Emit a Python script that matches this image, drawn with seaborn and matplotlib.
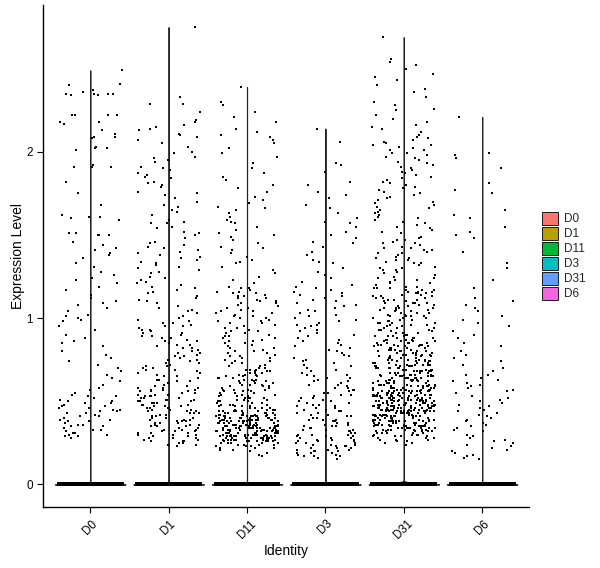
import numpy as np
import pandas as pd
import seaborn as sns
import matplotlib.pyplot as plt
from matplotlib.patches import Patch

# grupos e cores (paleta padrão do ggplot)
groups = ["D0", "D1", "D11", "D3", "D31", "D6"]
colors = ["#F8766D", "#B79F00", "#00BA38", "#00BFC4", "#619CFF", "#F564E3"]

# número de células com expressão zero por grupo (estimado)
zero_counts = [4000, 4000, 4000, 4000, 4000, 4000]

# valores de expressão não nulos (x100)
d0 = [249, 240, 241, 235, 235, 236, 237, 235, 234, 234, 235, 222, 222, 222, 222, 218, 217, 218,
      213, 211, 209, 208, 209, 202, 201, 202, 203, 192, 191, 191, 191, 182, 175, 168, 161, 162,
      161, 160, 159, 150, 150, 150, 151, 151, 146, 144, 142,
      141, 139, 136, 133, 131, 128, 126, 124, 121, 119, 117, 114, 112, 110, 108, 106, 104, 102,
      101, 99, 98, 138, 123, 109, 100,
      95, 93, 90, 88, 85, 83, 80, 78, 76, 74, 72, 70, 68, 66, 64, 62, 60, 58, 57, 86,
      55, 54, 53, 52, 51, 50, 49, 48, 47, 46, 45, 45, 44, 43, 42, 41, 40, 39, 38, 38, 37, 36,
      35, 34, 33, 32, 31, 30, 29, 28, 50, 47, 44, 41, 36, 33, 30, 53, 49, 43, 39, 35, 31, 29, 46]

d1 = [275, 233, 219, 229, 229, 224, 218, 214, 210, 216, 215, 211, 213, 200, 197, 209, 207, 205,
      203, 199, 195, 194, 196, 191, 190, 189, 187, 186, 184, 185, 182, 181, 180, 179, 176, 175,
      174, 172, 170, 168, 167, 165, 164, 162, 159, 157, 158, 157, 155, 154, 152, 151, 148, 150,
      146, 144, 145,
      143, 142, 140, 139, 138, 137, 135, 134, 132, 131, 130, 128, 127, 125, 124, 122, 121, 119,
      118, 116, 115, 113, 112, 110, 109, 107, 106, 104, 103, 101, 100, 141, 136, 129, 123, 117,
      111, 105, 133, 120,
      99, 98, 97, 96, 95, 94, 93, 92, 91, 90, 89, 88, 87, 86, 85, 84, 83, 82, 81, 80, 79, 78,
      77, 76, 75, 74, 73, 72, 71, 70, 69, 68, 67, 66, 65, 64, 63, 62, 61, 60, 97, 93, 88, 84,
      79, 75, 71, 67, 63, 95, 86, 77, 69, 62, 91, 82, 73, 65, 89, 70,
      59, 58, 57, 56, 55, 54, 53, 52, 51, 50, 49, 48, 47, 46, 45, 44, 43, 42, 41, 40, 39, 38,
      37, 36, 35, 34, 33, 32, 31, 30, 29, 28, 27, 26, 25, 24, 23, 58, 56, 54, 52, 50, 48, 46,
      44, 42, 40, 38, 36, 34, 32, 30, 28, 26, 57, 53, 49, 45, 41, 37, 33, 29, 25, 55, 51, 47,
      43, 39, 35, 31, 27, 59, 52, 45, 38, 31, 24, 56, 49, 42, 35, 28, 54, 47, 40, 33, 26, 58,
      50, 44, 37, 30, 53, 46, 39, 32, 51, 43, 36, 57, 48]

d11 = [239, 230, 228, 224, 221, 218, 214, 212, 210, 209, 207, 205, 202, 199, 197, 193, 190, 187,
       185, 183, 180, 178, 176, 173, 171,
       169, 167, 165, 163, 161, 159, 157, 155, 153, 151, 149, 147, 145, 143, 141, 139, 137, 135,
       133, 131, 129, 127, 125, 123, 121, 166, 158, 150, 142, 134,
       119, 118, 117, 116, 115, 114, 113, 112, 111, 110, 109, 108, 107, 106, 105, 104, 103, 102,
       101, 100, 99, 98, 97, 96, 95, 94, 93, 92, 91, 90, 89, 88, 87, 86, 85, 84, 83, 82, 81, 80,
       79, 78, 77, 76, 75, 74, 73, 72, 71, 70, 118, 115, 112, 109, 106, 103, 100, 97, 94, 91,
       88, 85, 82, 79, 76, 73, 70, 116, 110, 104, 98, 92, 86, 80, 74, 113, 101, 89, 77, 71,
       69, 68, 67, 66, 65, 64, 63, 62, 61, 60, 59, 58, 57, 56, 55, 54, 53, 52, 51, 50, 49, 48,
       47, 46, 45, 69, 67, 65, 63, 61, 59, 57, 55, 53, 51, 49, 47, 45, 68, 66, 64, 62, 60, 58,
       56, 54, 52, 50, 48, 46, 69, 66, 63, 60, 57, 54, 51, 48, 45, 67, 64, 61, 58, 55, 52, 49,
       46, 68, 65, 62, 59, 56, 53, 50, 47, 62, 57, 52, 47,
       44, 43, 42, 41, 40, 39, 38, 37, 36, 35, 34, 33, 32, 31, 30, 29, 28, 27, 26, 25, 24, 23,
       22, 21, 20, 19, 18, 17,
       44, 43, 42, 41, 40, 39, 38, 37, 36, 35, 34, 33, 32, 31, 30, 29, 28, 27, 26, 25, 24, 23, 22,
       44, 42, 41, 40, 39, 38, 37, 36, 35, 34, 33, 32, 31, 30, 29, 28, 27, 26, 25, 24,
       43, 42, 41, 40, 39, 38, 37, 36, 35, 34, 33, 32, 31, 30, 29, 28, 27, 26, 25,
       44, 43, 41, 40, 39, 38, 37, 36, 35, 34, 33, 32, 31, 30, 29, 28, 27, 26,
       42, 41, 40, 39, 38, 37, 36, 35, 34, 33, 32, 31, 30, 29, 28, 27,
       43, 41, 40, 39, 38, 37, 36, 35, 34, 33, 32, 31, 30, 29, 28, 27, 26,
       44, 42, 40, 39, 38, 37, 36, 35, 34, 33, 32, 31, 30, 29, 28,
       41, 39, 37, 36, 35, 34, 33, 32, 31, 30, 29, 28,
       40, 38, 36, 35, 34, 33, 32, 31, 30, 29,
       45, 43, 41, 39, 37, 35, 33, 31, 29, 27, 25, 23, 21,
       48, 44, 40, 36, 34, 32, 30, 28, 26, 24, 22,
       52, 46, 42, 38, 35, 31, 27, 24]

d3 = [214, 206, 193, 188, 182, 180, 176, 174, 192, 172,
      168, 166, 163, 160, 158, 155, 152, 150, 148, 146, 143, 140, 138, 135, 133, 130, 128, 126,
      124, 122, 120, 119, 157, 145, 134,
      117, 116, 114, 113, 111, 110, 108, 107, 105, 104, 102, 101, 99, 98, 96, 95, 93, 92, 90, 89,
      87, 86, 84, 83, 81, 80, 78, 77, 75, 74, 72, 71, 115, 109, 103, 97, 91, 85, 79, 73, 112,
      100, 88, 76, 106, 94, 82, 70, 118, 96,
      69, 68, 67, 66, 65, 64, 63, 62, 61, 60, 59, 58, 57, 56, 55, 54, 53, 52, 51, 50, 49, 48, 47,
      46, 45, 44, 43, 42, 41, 40, 39, 38, 37, 36, 35, 34, 33, 32, 31, 30, 29, 28, 27, 26, 25, 24,
      23, 22, 21, 20, 19, 18, 17, 16, 15,
      66, 62, 58, 54, 50, 47, 44, 41, 39, 37, 35, 33, 31, 29, 27, 25, 23, 21, 19, 17,
      64, 57, 49, 45, 42, 38, 34, 30, 28, 26, 24, 22, 20, 18,
      60, 52, 46, 40, 36, 32, 29, 26, 24, 21, 19,
      55, 43, 35, 30, 27, 23, 20, 17,
      48, 39, 33, 28, 25, 22]

d31 = [269, 256, 254, 252, 250, 247, 245, 240, 236, 233, 230, 228, 226, 222, 220, 218, 216, 214,
       212, 210, 208, 206, 205, 204, 203, 202, 201, 243, 238, 225, 215, 209, 207, 204, 201,
       199, 198, 197, 196, 195, 193, 192, 191, 189, 188, 186, 185, 183, 182, 180, 179, 178, 176,
       175, 173, 172, 170, 169, 167, 166, 164, 163, 161, 160, 158, 157, 155, 154, 152, 151, 199,
       194, 187, 181, 177, 171, 165, 159, 153, 190, 184, 174, 168, 162, 156,
       149, 148, 147, 146, 145, 144, 143, 142, 141, 140, 139, 138, 137, 136, 135, 134, 133, 132,
       131, 130, 129, 128, 127, 126, 125, 124, 123, 122, 121, 120, 148, 145, 142, 139, 136, 133,
       130, 127, 124, 121, 147, 141, 135, 129, 123,
       119, 118, 117, 116, 115, 114, 113, 112, 111, 110, 109, 108, 107, 106, 105, 104, 103, 102,
       101, 100, 99, 98, 97, 96, 95, 94, 93, 92, 91, 90,
       119, 117, 115, 113, 111, 109, 107, 105, 103, 101, 99, 97, 95, 93, 91,
       118, 116, 114, 112, 110, 108, 106, 104, 102, 100, 98, 96, 94, 92, 90,
       118, 115, 112, 109, 106, 103, 100, 97, 94, 91, 117, 113, 109, 105, 101, 97, 93,
       116, 111, 106, 101, 96,
       89, 88, 87, 86, 85, 84, 83, 82, 81, 80, 79, 78, 77, 76, 75, 74, 73, 72, 71, 70, 69, 68,
       67, 66, 65, 64, 63, 62, 61, 60,
       89, 88, 87, 86, 85, 84, 83, 82, 81, 80, 79, 78, 77, 76, 75, 74, 73, 72, 71, 70, 69, 68,
       67, 66, 65, 64, 63, 62, 61, 60,
       89, 87, 86, 85, 84, 83, 82, 81, 80, 79, 78, 77, 76, 75, 74, 73, 72, 71, 70, 69, 68, 67,
       66, 65, 64, 63, 62, 61, 60,
       88, 87, 86, 85, 84, 83, 82, 81, 80, 79, 78, 77, 76, 75, 74, 73, 72, 71, 70, 69, 68, 67,
       66, 65, 64, 63, 62, 61, 60,
       88, 86, 84, 82, 80, 78, 76, 74, 72, 70, 68, 66, 64, 62, 60,
       89, 87, 85, 83, 81, 79, 77, 75, 73, 71, 69, 67, 65, 63, 61,
       59, 58, 57, 56, 55, 54, 53, 52, 51, 50, 49, 48, 47, 46, 45, 44, 43, 42, 41, 40, 39, 38,
       37, 36, 35, 34, 33, 32, 31, 30,
       59, 58, 57, 56, 55, 54, 53, 52, 51, 50, 49, 48, 47, 46, 45, 44, 43, 42, 41, 40, 39, 38,
       37, 36, 35, 34, 33, 32, 31, 30,
       59, 58, 57, 56, 55, 54, 53, 52, 51, 50, 49, 48, 47, 46, 45, 44, 43, 42, 41, 40, 39, 38,
       37, 36, 35, 34, 33, 32, 31,
       58, 57, 56, 55, 54, 53, 52, 51, 50, 49, 48, 47, 46, 45, 44, 43, 42, 41, 40, 39, 38, 37,
       36, 35, 34, 33, 32, 31, 30,
       59, 57, 56, 55, 54, 53, 52, 51, 50, 49, 48, 47, 46, 45, 44, 43, 42, 41, 40, 39, 38, 37,
       36, 35, 34, 33, 32, 30,
       58, 57, 56, 55, 54, 53, 52, 51, 50, 49, 48, 47, 46, 45, 44, 43, 42, 41, 40, 39, 38, 37,
       36, 35, 34, 33, 31,
       59, 58, 56, 55, 54, 53, 52, 51, 50, 49, 48, 47, 46, 45, 44, 43, 42, 41, 40, 39, 38, 37,
       36, 35, 34, 32,
       59, 58, 57, 56, 55, 54, 53, 52, 51, 50, 49, 48, 47, 46, 45, 44, 43, 42, 41, 40,
       55, 54, 53, 52, 51, 50, 49, 48, 47, 46, 45, 44, 52, 50, 48, 46,
       70, 68, 66, 65, 63, 61, 59, 57, 56, 54, 52, 50, 48, 47, 45, 43, 41, 39, 37, 35,
       72, 69, 67, 64, 62, 58, 55, 53, 51, 49, 46, 44, 42, 40, 38, 36, 34,
       75, 71, 66, 60, 57, 53, 50, 47, 44, 41, 38, 35, 33,
       29, 28, 27, 26, 25, 24, 29, 28, 27, 26, 29, 28, 27, 25, 29]

d6 = [221, 199, 198, 196, 190, 181, 177, 175, 165, 162, 160, 152, 150, 155,
      148, 140, 133, 130, 123, 118, 112, 110, 108, 106, 104, 101,
      99, 97, 95, 92, 90, 88, 85, 83, 80, 78, 76, 74, 72, 70, 68, 66, 64, 62, 61, 60, 58, 57, 55,
      53, 52, 50, 49, 47, 46, 45, 43, 42, 40, 39, 38, 36, 35, 33, 32, 30, 29, 27, 26, 25, 23, 22,
      20, 19, 18, 17, 16, 15, 63, 56, 48, 41, 34, 28, 24, 21, 66, 59, 51, 44, 37]

valores = [d0, d1, d11, d3, d31, d6]

linhas = []
for g, nz, vals in zip(groups, zero_counts, valores):
    for v in [0] * nz:
        linhas.append((g, v))
    for v in vals:
        linhas.append((g, v / 100))
df = pd.DataFrame(linhas, columns=["Identity", "Expression"])

sns.set_style("ticks")
plt.rcParams["font.family"] = ["Liberation Sans", "DejaVu Sans"]

fig = plt.figure(figsize=(6, 5.68), dpi=100)
ax = fig.add_axes([0.072, 0.107, 0.81, 0.884])

np.random.seed(3)
sns.violinplot(data=df, x="Identity", y="Expression", hue="Identity", order=groups,
               hue_order=groups, palette=colors, density_norm="width", cut=0, inner=None,
               bw_method=0.02, gridsize=1500, width=0.9, linewidth=0.8, linecolor="#222222",
               legend=False, ax=ax)
# pontos em zero (faixa grossa) e pontos com expressão
sns.stripplot(data=df[df["Expression"] == 0], x="Identity", y="Expression", order=groups,
              color="black", size=2.4, marker="s", linewidth=0, jitter=0.4, ax=ax)
sns.stripplot(data=df[df["Expression"] > 0], x="Identity", y="Expression", order=groups,
              color="black", size=1.7, marker="s", linewidth=0, jitter=0.4, ax=ax)

ax.set_xlim(-0.6, 5.6)
ax.set_ylim(-0.137, 2.882)
ax.set_yticks([0, 1, 2])
ax.set_xlabel("Identity", fontsize=10, color="black", labelpad=2)
ax.set_ylabel("Expression Level", fontsize=10, color="black", labelpad=1)
ax.tick_params(axis="both", labelsize=8.4, colors="black", length=4, width=0.8)
plt.setp(ax.get_xticklabels(), rotation=45)
sns.despine(ax=ax)
for s in ["left", "bottom"]:
    ax.spines[s].set_linewidth(1.0)
    ax.spines[s].set_color("black")

handles = [Patch(facecolor=c, edgecolor="black", linewidth=0.6, label=g)
           for g, c in zip(groups, colors)]
ax.legend(handles=handles, loc="center left", bbox_to_anchor=(1.005, 0.5), frameon=False,
          fontsize=8.5, handlelength=1.3, handleheight=1.35, labelspacing=0.12,
          handletextpad=0.5)

fig.savefig("out.png", dpi=100)
